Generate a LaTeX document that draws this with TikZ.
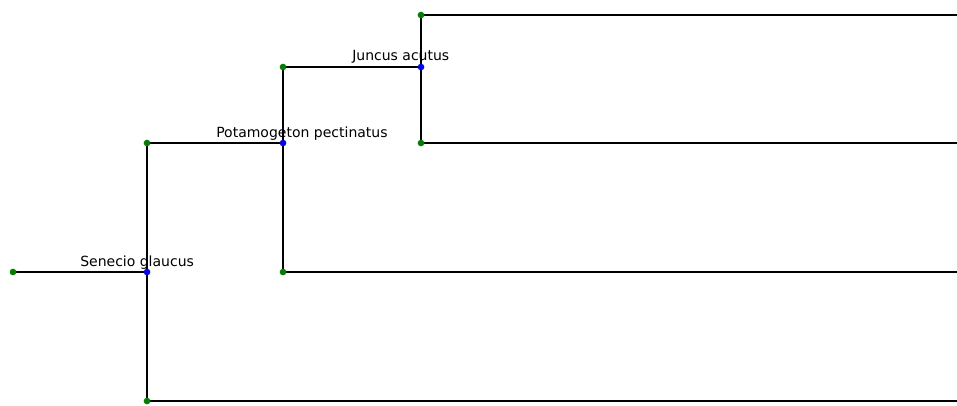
\documentclass[tikz,border=0pt]{standalone}
\usepackage{fontspec}
\setmainfont{DejaVu Sans}
\begin{document}
\begin{tikzpicture}[x=0.75pt,y=-0.75pt,
  leaf/.style={circle,fill={rgb,255:red,0;green,128;blue,0},inner sep=0pt,minimum size=5pt},
  fork/.style={circle,fill={rgb,255:red,0;green,0;blue,255},inner sep=0pt,minimum size=5pt},
  branch/.style={draw=black,line width=1pt},
  taxon/.style={anchor=base west,inner sep=0pt,font=\fontsize{10.5pt}{12pt}\selectfont}]
\useasboundingbox (0,0) rectangle (957,405);
% branch points and tips
\coordinate (root) at (13,272);
\coordinate (s) at (147,272);
\coordinate (sU) at (147,143);
\coordinate (sD) at (147,401);
\coordinate (p) at (283,143);
\coordinate (pU) at (283,67);
\coordinate (pD) at (283,272);
\coordinate (j) at (421,67);
\coordinate (jU) at (421,15);
\coordinate (jD) at (421,143);
\coordinate (e1) at (957,15);
\coordinate (e2) at (957,143);
\coordinate (e3) at (957,272);
\coordinate (e4) at (957,401);
% tree edges
\draw[branch] (root) -- (s);
\draw[branch] (sU) -- (sD);
\draw[branch] (sU) -- (p);
\draw[branch] (pU) -- (pD);
\draw[branch] (pU) -- (j);
\draw[branch] (jU) -- (jD);
\draw[branch] (jU) -- (e1);
\draw[branch] (jD) -- (e2);
\draw[branch] (pD) -- (e3);
\draw[branch] (sD) -- (e4);
% markers
\node[leaf] (nroot) at (root) {};
\node[leaf] (nsU) at (sU) {};
\node[leaf] (nsD) at (sD) {};
\node[leaf] (npU) at (pU) {};
\node[leaf] (npD) at (pD) {};
\node[leaf] (njU) at (jU) {};
\node[leaf] (njD) at (jD) {};
\node[fork] (ns) at (s) {};
\node[fork] (np) at (p) {};
\node[fork] (nj) at (j) {};
% labels
\node[taxon] (ls) at (80,266) {Senecio glaucus};
\node[taxon] (lp) at (216,137) {Potamogeton pectinatus};
\node[taxon] (lj) at (352,60) {Juncus acutus};
\end{tikzpicture}
\end{document}
